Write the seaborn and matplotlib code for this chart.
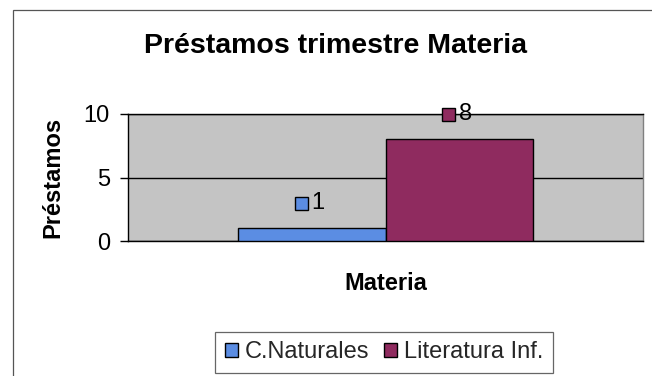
import matplotlib
matplotlib.use("Agg")
import matplotlib.pyplot as plt
import seaborn as sns
import pandas as pd
from matplotlib.patches import Rectangle
from matplotlib.offsetbox import DrawingArea, TextArea, HPacker, AnnotationBbox

# ---- data ----
series = ["C.Naturales", "Literatura Inf."]
values = [1, 8]
category = ["Materia", "Materia"]
colors = ["#5b8de3", "#8f2b5f"]
yticks = [0, 5, 10]
title = "Préstamos trimestre Materia"
xlabel = "Materia"
ylabel = "Préstamos"

sns.set_theme(style="white")
plt.rcParams["font.family"] = ["Liberation Sans", "DejaVu Sans"]

W, H = 652, 376
fig = plt.figure(figsize=(W / 100, H / 100), dpi=100)
fig.patch.set_facecolor("white")

# axes placement (pixels -> fractions)
L, R, T, B = 128, 643, 114, 241
ax = fig.add_axes([L / W, 1 - B / H, (R - L) / W, (B - T) / H])
ax.set_facecolor("#c4c4c4")

df = pd.DataFrame({"cat": category, "serie": series, "val": values})
sns.barplot(data=df, x="cat", y="val", hue="serie", hue_order=series,
            palette=colors, width=0.571, gap=0, saturation=1,
            edgecolor="black", linewidth=1.0, legend=False, ax=ax, zorder=3)

ax.set_ylim(0, 10)
ax.set_xlim(-0.5, 0.5)
ax.set_yticks(yticks)
ax.set_yticklabels([str(t) for t in yticks], fontsize=17, color="black")
ax.set_xticks([])
ax.tick_params(axis="y", direction="out", length=6, width=1, color="black",
               pad=7, left=True)
ax.yaxis.grid(True, color="black", linewidth=1.0, zorder=1)
ax.set_axisbelow(True)

for side in ["top", "right"]:
    ax.spines[side].set_color("#808080")
    ax.spines[side].set_linewidth(1.0)
for side in ["left", "bottom"]:
    ax.spines[side].set_color("black")
    ax.spines[side].set_linewidth(1.0)
ax.spines["top"].set_color("black")

ax.set_xlabel(xlabel, fontsize=17, fontweight="bold", color="black")
ax.set_ylabel(ylabel, fontsize=17, fontweight="bold", color="black")
ax.xaxis.label.set_va("baseline")
ax.xaxis.set_label_coords(0.5, -(290 - B) / (B - T))
ax.yaxis.set_label_coords(-(128 - 64) / (R - L), 0.5)

# data labels with legend key
for cont, val, col in zip(ax.containers, values, colors):
    bar = cont.patches[0]
    xc = bar.get_x() + bar.get_width() / 2
    da = DrawingArea(9, 9, 0, 0)
    da.add_artist(Rectangle((0, 0), 9, 9, facecolor=col, edgecolor="black", linewidth=1.0))
    ta = TextArea(str(val), textprops=dict(fontsize=17, color="black"))
    pack = HPacker(children=[da, ta], align="center", pad=0, sep=3)
    ab = AnnotationBbox(pack, (xc, val), xybox=(-1.5, 18), xycoords="data",
                        boxcoords="offset points", frameon=False,
                        box_alignment=(0.5, 0.5), zorder=5)
    ax.add_artist(ab)

# title
fig.text(336 / W, 1 - 53 / H, title, fontsize=20.5, fontweight="bold",
         ha="center", va="baseline", color="black")

# legend
handles = [c.patches[0] for c in ax.containers]
leg = fig.legend(handles, series, loc="center",
                 bbox_to_anchor=(384 / W, 1 - 352.5 / H), ncol=2,
                 fontsize=17, frameon=True, fancybox=False, shadow=False,
                 handlelength=0.55, handleheight=0.55, handletextpad=0.3,
                 columnspacing=0.6, borderpad=0.4, borderaxespad=0)
leg.get_frame().set_edgecolor("#404040")
leg.get_frame().set_linewidth(0.9)
leg.get_frame().set_facecolor("white")

# outer chart border (extends past right/bottom edges)
fig.add_artist(Rectangle((13 / W, -0.2), 2.0, (1 - 10 / H) + 0.2,
                         transform=fig.transFigure, fill=False,
                         edgecolor="#555555", linewidth=0.9))

fig.savefig("out.png", dpi=100)
